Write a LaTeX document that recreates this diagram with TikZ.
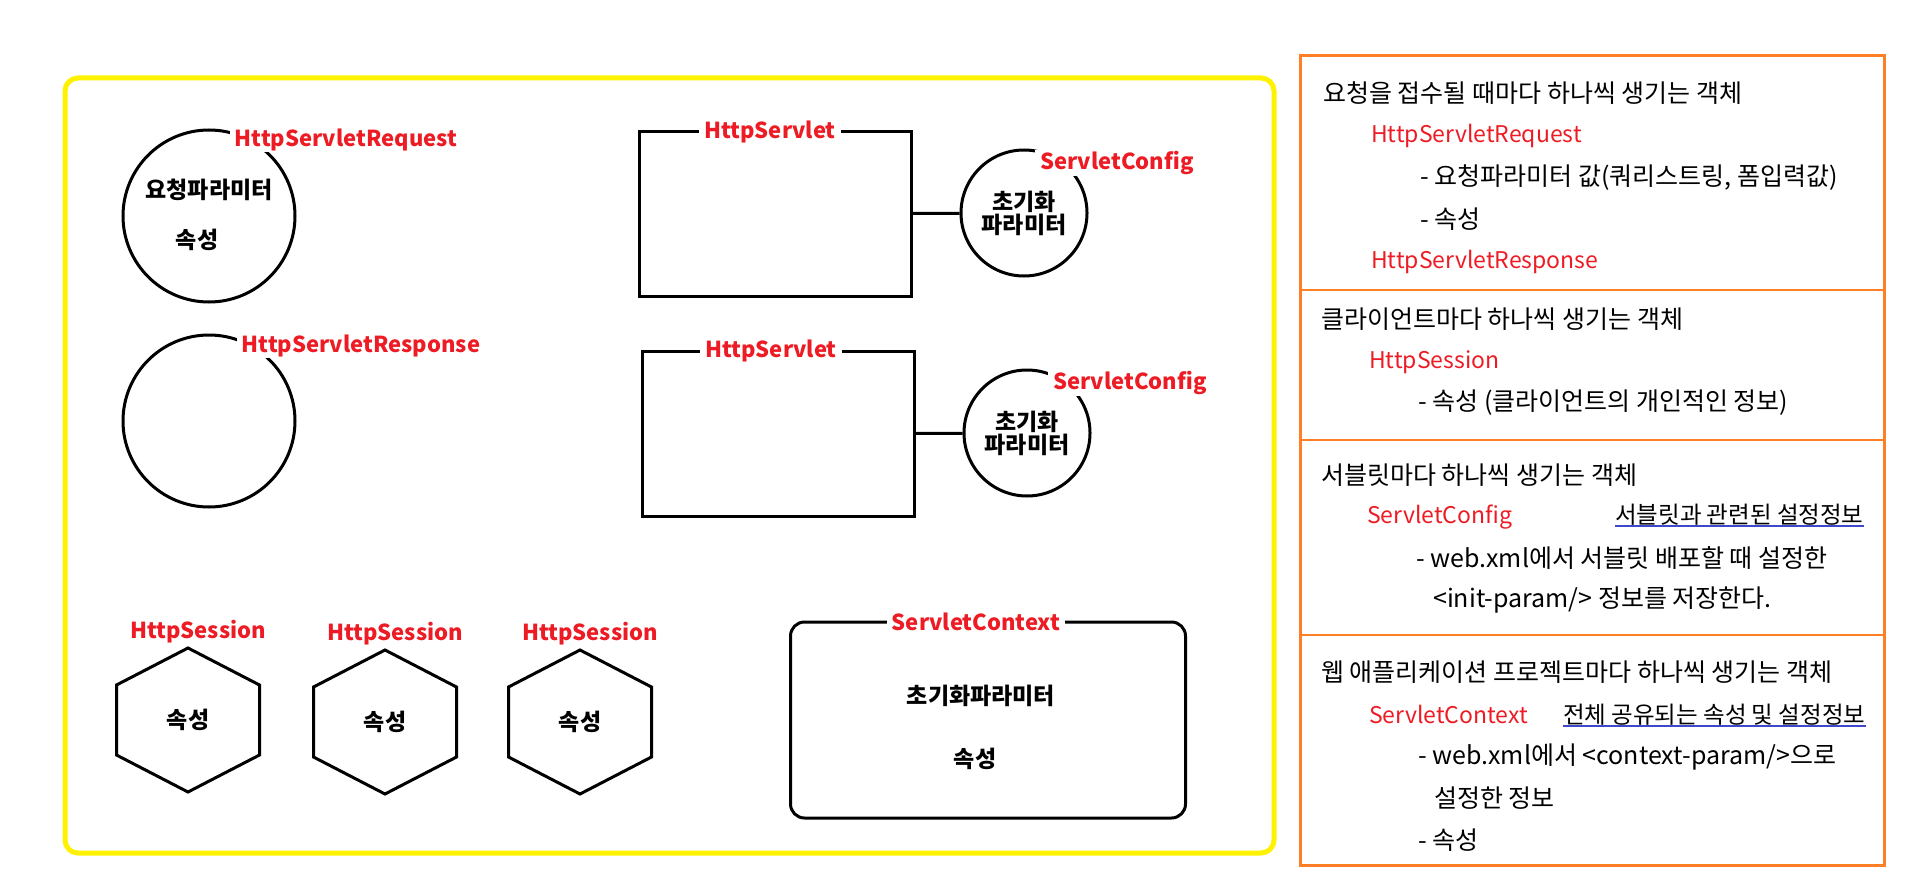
\documentclass[tikz,border=0pt]{standalone}
\usepackage{fontspec}
\setmainfont{Noto Sans CJK KR}
\usetikzlibrary{positioning}
\definecolor{paintred}{RGB}{237,28,36}
\definecolor{paintyellow}{RGB}{255,242,0}
\definecolor{paintorange}{RGB}{255,127,39}
\definecolor{paintblue}{RGB}{63,72,204}

\begin{document}
\begin{tikzpicture}[x=1pt, y=-1pt,
  objline/.style={draw, line width=3pt},
  ring/.style={objline, circle, minimum size=#1, inner sep=0pt},
  servbox/.style={objline, rectangle, minimum width=272pt, minimum height=165pt},
  redlabel/.style={text=paintred, fill=white, inner xsep=5pt, inner ysep=1pt, font=\bfseries\fontsize{22}{26}\selectfont},
  boldtxt/.style={font=\bfseries\fontsize{23}{23}\selectfont, align=center},
  note/.style={anchor=west, inner sep=0pt, font=\fontsize{25}{28}\selectfont},
  rednote/.style={note, text=paintred, font=\fontsize{23}{28}\selectfont},
  linknote/.style={note, font=\fontsize{23.5}{28}\selectfont}]

  \useasboundingbox (0,0) rectangle (1913,888);
  \draw[paintyellow, line width=5pt, rounded corners=13pt] (65,78) rectangle (1274,853);

  % request and response
  \node[ring=172] (req) at (209,216) {};
  \node[redlabel] (reqlbl) at (346,140) {HttpServletRequest};
  \node[boldtxt] (reqpar) at (209,190) {요청파라미터};
  \node[boldtxt] (reqattr) at (197,240) {속성};
  \node[ring=172] (res) at (209,421) {};
  \node[redlabel] (reslbl) at (361,346) {HttpServletResponse};

  % servlets and their config
  \node[servbox] (srv1) at (775,214) {};
  \node[redlabel] (srv1lbl) at (770,132) {HttpServlet};
  \node[ring=126, boldtxt] (cfg1) at (1024,213) {초기화\\파라미터};
  \node[redlabel] (cfg1lbl) at (1117,163) {ServletConfig};
  \node[servbox] (srv2) at (778,434) {};
  \node[redlabel] (srv2lbl) at (771,351) {HttpServlet};
  \node[ring=126, boldtxt] (cfg2) at (1027,433) {초기화\\파라미터};
  \node[redlabel] (cfg2lbl) at (1130,383) {ServletConfig};
  \path[line width=3pt]
    (srv1) edge (cfg1)
    (srv2) edge (cfg2);

  % sessions
  \foreach \i/\x/\y in {1/188/720, 2/385/722, 3/580/722}{
    \node[boldtxt] (hex\i) at (\x,\y) {속성};
    \draw[line width=3pt] (hex\i.center) ++(0,-72) -- ++(71.5,37) -- ++(0,70) -- ++(-71.5,37) -- ++(-71.5,-37) -- ++(0,-70) -- cycle;
    \node[redlabel] (sess\i) at (\x+10,\y-88) {HttpSession};
  }

  % context
  \node[objline, rounded corners=14pt, minimum width=395pt, minimum height=196pt] (ctx) at (988,720) {};
  \node[redlabel] (ctxlbl) at (976,622) {ServletContext};
  \node[boldtxt] (ctxpar) at (981,696) {초기화파라미터};
  \node[boldtxt] (ctxattr) at (975,759) {속성};

  % notes
  \draw[paintorange, line width=3pt] (1300,56) rectangle (1884,865);
  \foreach \y in {290,440,635}
    \draw[paintorange, line width=1.5pt] (1300,\y) -- (1884,\y);

  \node[note] (n1) at (1323,93) {요청을 접수될 때마다 하나씩 생기는 객체};
  \node[rednote] (n1a) at (1371,136) {HttpServletRequest};
  \node[note] (n1b) at (1420,178) {- 요청파라미터 값(쿼리스트링, 폼입력값)};
  \node[note] (n1c) at (1420,219) {- 속성};
  \node[rednote] (n1d) at (1371,262) {HttpServletResponse};
  \node[note] (n2) at (1321,319) {클라이언트마다 하나씩 생기는 객체};
  \node[rednote] (n2a) at (1369,362) {HttpSession};
  \node[note] (n2b) at (1418,403) {- 속성 (클라이언트의 개인적인 정보)};
  \node[note] (n3) at (1321,475) {서블릿마다 하나씩 생기는 객체};
  \node[rednote] (n3a) at (1367,517) {ServletConfig};
  \node[linknote] (cfgnote) at (1615,515) {서블릿과 관련된 설정정보};
  \node[note] (n3b) at (1416,558) {- web.xml에서 서블릿 배포할 때 설정한};
  \node[note] (n3c) at (1433,600) {<init-param/> 정보를 저장한다.};
  \node[note] (n4) at (1321,672) {웹 애플리케이션 프로젝트마다 하나씩 생기는 객체};
  \node[rednote] (n4a) at (1369,714) {ServletContext};
  \node[linknote] (ctxnote) at (1563,715) {전체 공유되는 속성 및 설정정보};
  \node[note] (n4b) at (1418,757) {- web.xml에서 <context-param/>으로};
  \node[note] (n4c) at (1434,798) {설정한 정보};
  \node[note] (n4d) at (1418,840) {- 속성};
  \draw[paintblue, line width=1.5pt]
    (cfgnote.south west) -- (cfgnote.south east)
    (ctxnote.south west) -- (ctxnote.south east);
\end{tikzpicture}
\end{document}
